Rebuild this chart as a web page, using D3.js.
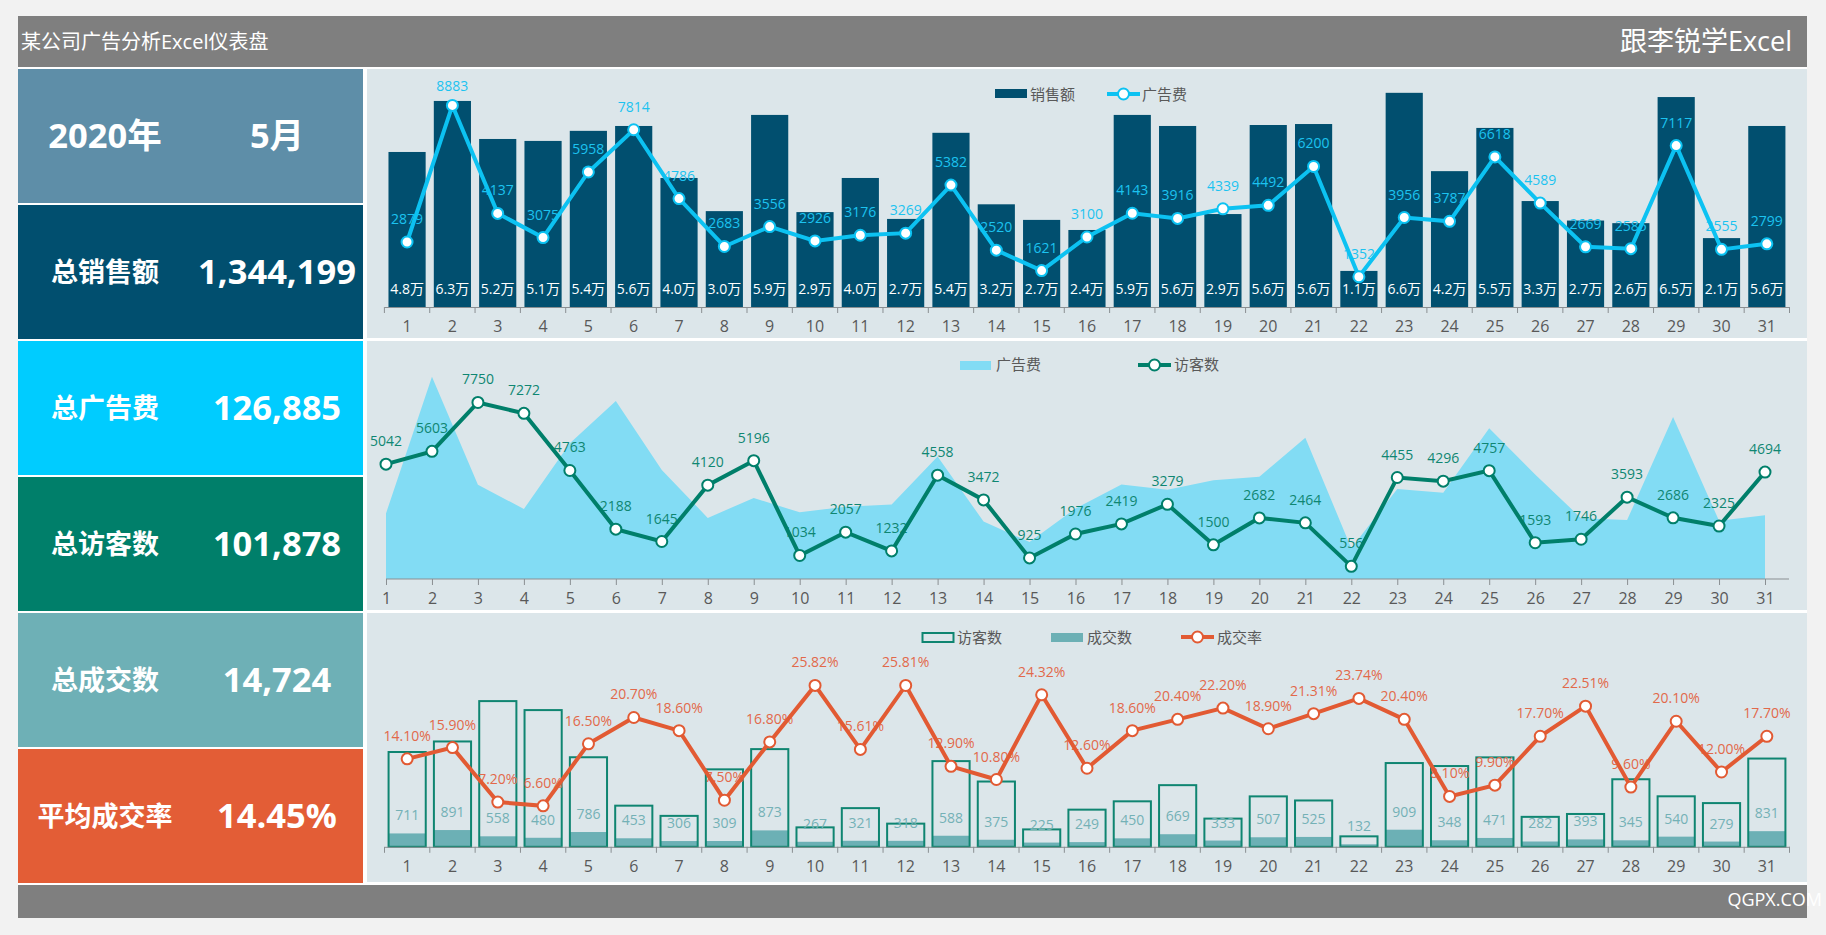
<!DOCTYPE html>
<html>
<head>
<meta charset="utf-8">
<script src="https://cdn.jsdelivr.net/npm/d3@7"></script>
<style>
  body { margin: 0; background: #f2f2f2; }
  text { font-family: "Open Sans", "Noto Sans CJK SC", sans-serif; }
</style>
</head>
<body>
<div class="canvas"></div>
<script>
// data
var days = d3.range(1, 32)
var sales = [47700, 63400, 51700, 51100, 54200, 55700, 39700, 29500, 59100, 29200, 39700, 27100, 53600, 31600, 26800, 23700, 59100, 55700, 28600, 56000, 56300, 11100, 65900, 41800, 55100, 32600, 26600, 25800, 64600, 21200, 55700]
var adFee = [2879, 8883, 4137, 3075, 5958, 7814, 4786, 2683, 3556, 2926, 3176, 3269, 5382, 2520, 1621, 3100, 4143, 3916, 4339, 4492, 6200, 1352, 3956, 3787, 6618, 4589, 2669, 2585, 7117, 2555, 2799]
var visitors = [5042, 5603, 7750, 7272, 4763, 2188, 1645, 4120, 5196, 1034, 2057, 1232, 4558, 3472, 925, 1976, 2419, 3279, 1500, 2682, 2464, 556, 4455, 4296, 4757, 1593, 1746, 3593, 2686, 2325, 4694]
var deals = [711, 891, 558, 480, 786, 453, 306, 309, 873, 267, 321, 318, 588, 375, 225, 249, 450, 669, 333, 507, 525, 132, 909, 348, 471, 282, 393, 345, 540, 279, 831]
var rates = [14.10, 15.90, 7.20, 6.60, 16.50, 20.70, 18.60, 7.50, 16.80, 25.82, 15.61, 25.81, 12.90, 10.80, 24.32, 12.60, 18.60, 20.40, 22.20, 18.90, 21.31, 23.74, 20.40, 8.10, 9.90, 17.70, 22.51, 9.60, 20.10, 12.00, 17.70]

var summaryNames = ["总销售额", "总广告费", "总访客数", "总成交数", "平均成交率"]
var summaryValues = ["1,344,199", "126,885", "101,878", "14,724", "14.45%"]
var summaryColors = ["#014f6f", "#00ccff", "#007f6a", "#6eb0b6", "#e35d36"]

var cyan = "#0cc2f2", green = "#007f6a", teal = "#6cb0b5", orange = "#e25a33", navy = "#014f6f"

var svg = d3.select(".canvas").append("svg").attr("width", 1826).attr("height", 935).style("display", "block")

// white sheet behind everything, the gaps between blocks are this
svg.append("rect").attr("x", 18).attr("y", 16).attr("width", 1789).attr("height", 902).attr("fill", "#fff")

// header and footer
svg.append("rect").attr("x", 18).attr("y", 16).attr("width", 1789).attr("height", 51).attr("fill", "#7f7f7f")
svg.append("rect").attr("x", 18).attr("y", 885).attr("width", 1789).attr("height", 33).attr("fill", "#7f7f7f")
svg.append("text").attr("x", 21).attr("y", 48.5).attr("fill", "#fff").attr("font-size", 20).text("某公司广告分析Excel仪表盘")
svg.append("text").attr("x", 1792).attr("y", 51).attr("fill", "#fff").attr("font-size", 27).attr("text-anchor", "end").text("跟李锐学Excel")
svg.append("text").attr("x", 1822).attr("y", 906).attr("fill", "#fff").attr("font-size", 18).attr("text-anchor", "end").text("QGPX.COM")

// left column
svg.append("rect").attr("x", 18).attr("y", 69).attr("width", 345).attr("height", 134).attr("fill", "#5e8ea8")
svg.append("text").attr("x", 105).attr("y", 148).attr("fill", "#fff").attr("font-size", 34.5).attr("font-weight", 700).attr("text-anchor", "middle").text("2020年")
svg.append("text").attr("x", 277).attr("y", 148).attr("fill", "#fff").attr("font-size", 34.5).attr("font-weight", 700).attr("text-anchor", "middle").text("5月")

var rowTop = d3.scaleLinear().domain([0, 4]).range([205, 749])
summaryNames.forEach(function (name, i) {
    var top = rowTop(i)
    svg.append("rect").attr("x", 18).attr("y", top).attr("width", 345).attr("height", 134).attr("fill", summaryColors[i])
    svg.append("text").attr("x", 105).attr("y", top + 77).attr("fill", "#fff").attr("font-size", 27).attr("font-weight", 700).attr("text-anchor", "middle").text(name)
    svg.append("text").attr("x", 277).attr("y", top + 79).attr("fill", "#fff").attr("font-size", 34.5).attr("font-weight", 700).attr("text-anchor", "middle").text(summaryValues[i])
})

// chart panels
var panelTops = [69, 341, 613]
panelTops.forEach(function (y) {
    svg.append("rect").attr("x", 367).attr("y", y).attr("width", 1440).attr("height", 269).attr("fill", "#dce6ea")
})

function bandAxis(x, baseY) {
    var g = svg.append("g").attr("transform", "translate(0," + baseY + ")")
    g.call(d3.axisBottom(x).tickSize(0).tickPadding(14))
    g.select(".domain").attr("stroke", "#8a8f92")
    g.selectAll("text").attr("font-size", 16).attr("fill", "#595959")
    // ticks sit between the bars, not under them
    var edges = days.map(function (d) { return x(d) - x.step() * x.padding() / 2 }).concat([x.range()[1]])
    g.selectAll(".edge").data(edges).enter().append("line")
        .attr("class", "edge")
        .attr("x1", function (d) { return d }).attr("x2", function (d) { return d })
        .attr("y1", 0).attr("y2", 6)
        .attr("stroke", "#8a8f92")
}

function lineWithMarkers(xPos, yPos, values, color) {
    var line = d3.line().x(function (d, i) { return xPos(days[i]) }).y(function (d) { return yPos(d) })
    svg.append("path").attr("d", line(values)).attr("fill", "none").attr("stroke", color).attr("stroke-width", 4)
    svg.selectAll(null).data(values).enter().append("circle")
        .attr("cx", function (d, i) { return xPos(days[i]) })
        .attr("cy", function (d) { return yPos(d) })
        .attr("r", 5.5)
        .attr("fill", "#fff")
        .attr("stroke", color)
        .attr("stroke-width", 2)
}

function pointLabels(xPos, yPos, values, color, fmt, minY) {
    svg.selectAll(null).data(values).enter().append("text")
        .attr("x", function (d, i) { return xPos(days[i]) })
        .attr("y", function (d) { return Math.max(yPos(d) - 18, minY || 0) })
        .attr("text-anchor", "middle")
        .attr("font-size", 14)
        .attr("fill", color)
        .text(fmt)
}

function legendText(x, y, label) {
    svg.append("text").attr("x", x).attr("y", y + 5).attr("font-size", 15).attr("fill", "#595959").text(label)
}

function legendLine(x1, x2, y, color) {
    svg.append("line").attr("x1", x1).attr("x2", x2).attr("y1", y).attr("y2", y).attr("stroke", color).attr("stroke-width", 4)
    svg.append("circle").attr("cx", (x1 + x2) / 2).attr("cy", y).attr("r", 5.5).attr("fill", "#fff").attr("stroke", color).attr("stroke-width", 2)
}

// top chart: sales bars, ad fee line
var x1 = d3.scaleBand().domain(days).range([384.4, 1789.5]).paddingInner(0.18).paddingOuter(0.09)
var ySales = d3.scaleLinear().domain([0, 70000]).range([307, 79.5])
var yAd1 = d3.scaleLinear().domain([0, 10000]).range([307.5, 80])
var x1c = function (d) { return x1(d) + x1.bandwidth() / 2 }

svg.selectAll(".sales").data(sales).enter().append("rect")
    .attr("class", "sales")
    .attr("x", function (d, i) { return x1(days[i]) })
    .attr("y", function (d) { return ySales(d) })
    .attr("width", x1.bandwidth())
    .attr("height", function (d) { return ySales(0) - ySales(d) })
    .attr("fill", navy)
svg.selectAll(".salesLabel").data(sales).enter().append("text")
    .attr("class", "salesLabel")
    .attr("x", function (d, i) { return x1c(days[i]) })
    .attr("y", 294)
    .attr("text-anchor", "middle")
    .attr("font-size", 14)
    .attr("fill", "#fff")
    .text(function (d) { return (d / 10000).toFixed(1) + "万" })
bandAxis(x1, 307)
pointLabels(x1c, yAd1, adFee, "#1cc3f0", function (d) { return d }, 91)
lineWithMarkers(x1c, yAd1, adFee, cyan)

svg.append("rect").attr("x", 995).attr("y", 89).attr("width", 32).attr("height", 9).attr("fill", navy)
legendText(1030, 95, "销售额")
legendLine(1107, 1140, 94, cyan)
legendText(1142, 95, "广告费")

// middle chart: ad fee area, visitors line
var x2 = d3.scalePoint().domain(days).range([386, 1765])
var y2 = d3.scaleLinear().domain([0, 10000]).range([579, 351.2])
var area = d3.area().x(function (d, i) { return x2(days[i]) }).y0(y2(0)).y1(function (d) { return y2(d) })
svg.append("path").attr("d", area(adFee)).attr("fill", "#82dcf4")

var axis2 = svg.append("g").attr("transform", "translate(0,579)")
axis2.call(d3.axisBottom(x2).tickSizeInner(6).tickSizeOuter(0).tickPadding(8))
axis2.select(".domain").attr("stroke", "#8a8f92").attr("d", "M386,0H1789")
axis2.selectAll("line").attr("stroke", "#8a8f92")
axis2.selectAll("text").attr("font-size", 16).attr("fill", "#595959")

pointLabels(x2, y2, visitors, "#0f8672", function (d) { return d })
lineWithMarkers(x2, y2, visitors, green)

svg.append("rect").attr("x", 960).attr("y", 361).attr("width", 31).attr("height", 9).attr("fill", "#82dcf4")
legendText(996, 365, "广告费")
legendLine(1138, 1171, 365, green)
legendText(1174, 365, "访客数")

// bottom chart: visitors outline, deals fill, rate line
var x3 = d3.scaleBand().domain(days).range([384.5, 1789.5]).paddingInner(0.18).paddingOuter(0.09)
var y3 = d3.scaleLinear().domain([0, 10000]).range([846.8, 658.8])
var yRate = d3.scaleLinear().domain([0, 30]).range([847.2, 659.2])
var x3c = function (d) { return x3(d) + x3.bandwidth() / 2 }

svg.selectAll(".deal").data(deals).enter().append("rect")
    .attr("class", "deal")
    .attr("x", function (d, i) { return x3(days[i]) })
    .attr("y", function (d) { return y3(d) })
    .attr("width", x3.bandwidth())
    .attr("height", function (d) { return y3(0) - y3(d) })
    .attr("fill", teal)
svg.selectAll(".visit").data(visitors).enter().append("rect")
    .attr("class", "visit")
    .attr("x", function (d, i) { return x3(days[i]) })
    .attr("y", function (d) { return y3(d) })
    .attr("width", x3.bandwidth())
    .attr("height", function (d) { return y3(0) - y3(d) })
    .attr("fill", "none")
    .attr("stroke", "#0f8571")
    .attr("stroke-width", 2)
svg.selectAll(".dealLabel").data(deals).enter().append("text")
    .attr("class", "dealLabel")
    .attr("x", function (d, i) { return x3c(days[i]) })
    .attr("y", function (d) { return y3(d) - 13 })
    .attr("text-anchor", "middle")
    .attr("font-size", 14)
    .attr("fill", "#74b1b6")
    .text(function (d) { return d })
bandAxis(x3, 846.8)
pointLabels(x3c, yRate, rates, "#e2694a", function (d) { return d.toFixed(2) + "%" })
lineWithMarkers(x3c, yRate, rates, orange)

svg.append("rect").attr("x", 922.5).attr("y", 633).attr("width", 31).attr("height", 9).attr("fill", "none").attr("stroke", "#0f8571").attr("stroke-width", 2)
legendText(957, 638, "访客数")
svg.append("rect").attr("x", 1051).attr("y", 633).attr("width", 32).attr("height", 9).attr("fill", teal)
legendText(1087, 638, "成交数")
legendLine(1181, 1214, 637, orange)
legendText(1217, 638, "成交率")
</script>
</body>
</html>
